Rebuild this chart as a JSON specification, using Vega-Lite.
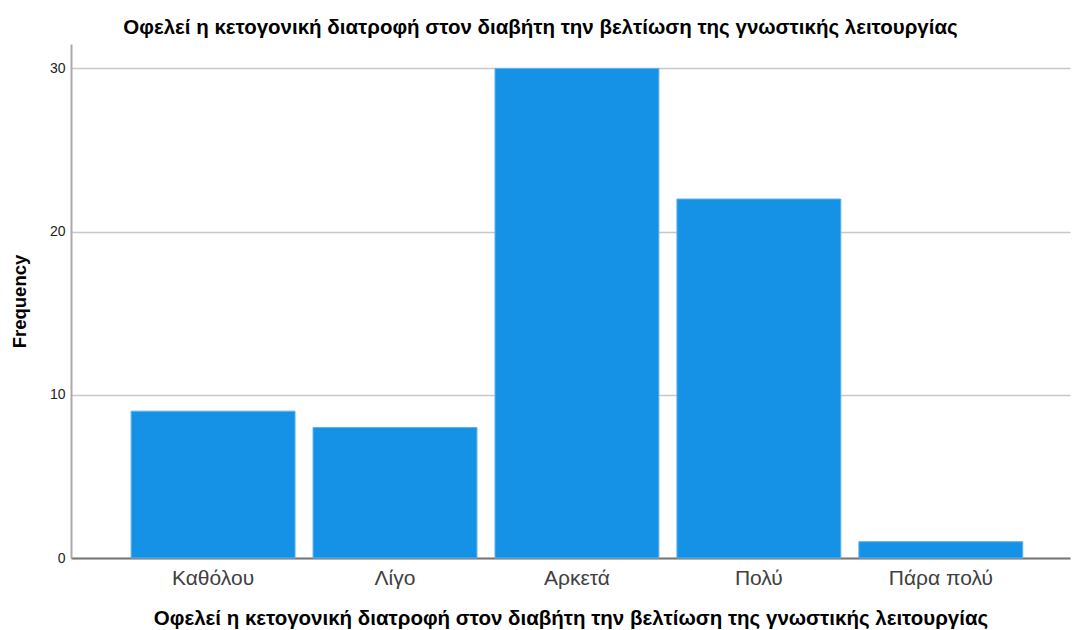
{
  "$schema": "https://vega.github.io/schema/vega-lite/v6.json",
  "width": 999,
  "height": 514,
  "autosize": {"type": "none"},
  "padding": {"left": 71, "top": 44, "right": 3, "bottom": 72},
  "background": "white",
  "config": {"view": {"stroke": null}, "font": "Liberation Sans"},
  "title": {
    "text": "Οφελεί η κετογονική διατροφή στον διαβήτη την βελτίωση της γνωστικής λειτουργίας",
    "font": "Liberation Sans",
    "fontSize": 20.5,
    "fontWeight": "bold",
    "color": "#000000",
    "anchor": "middle",
    "dx": -30,
    "offset": 6
  },
  "data": {
    "values": [
      {"category": "Καθόλου", "frequency": 9},
      {"category": "Λίγο", "frequency": 8},
      {"category": "Αρκετά", "frequency": 30},
      {"category": "Πολύ", "frequency": 22},
      {"category": "Πάρα πολύ", "frequency": 1}
    ]
  },
  "mark": {"type": "bar", "color": "#1591e6", "stroke": "#5fb3ee", "strokeWidth": 1},
  "encoding": {
    "x": {
      "field": "category",
      "type": "nominal",
      "sort": null,
      "scale": {"paddingInner": 0.099, "paddingOuter": 0.295, "align": 0.56},
      "axis": {
        "title": "Οφελεί η κετογονική διατροφή στον διαβήτη την βελτίωση της γνωστικής λειτουργίας",
        "titleFont": "Liberation Sans",
        "titleFontSize": 20.5,
        "titleFontWeight": "bold",
        "titleColor": "#000000",
        "titlePadding": 20,
        "labelAngle": 0,
        "labelFont": "Liberation Sans",
        "labelFontSize": 21,
        "labelColor": "#404040",
        "labelPadding": 9,
        "ticks": false,
        "domainColor": "#777777",
        "domainWidth": 2
      }
    },
    "y": {
      "field": "frequency",
      "type": "quantitative",
      "scale": {"domain": [0, 31.5], "nice": false},
      "axis": {
        "title": "Frequency",
        "titleFont": "Liberation Sans",
        "titleFontSize": 18.5,
        "titleFontWeight": "bold",
        "titleColor": "#000000",
        "titlePadding": 20,
        "values": [0, 10, 20, 30],
        "labelFont": "Liberation Sans",
        "labelFontSize": 14,
        "labelColor": "#222222",
        "labelPadding": 6,
        "ticks": false,
        "domainColor": "#aaaaaa",
        "domainWidth": 2,
        "grid": true,
        "gridColor": "#c8c8c8",
        "gridWidth": 1.5
      }
    }
  }
}
